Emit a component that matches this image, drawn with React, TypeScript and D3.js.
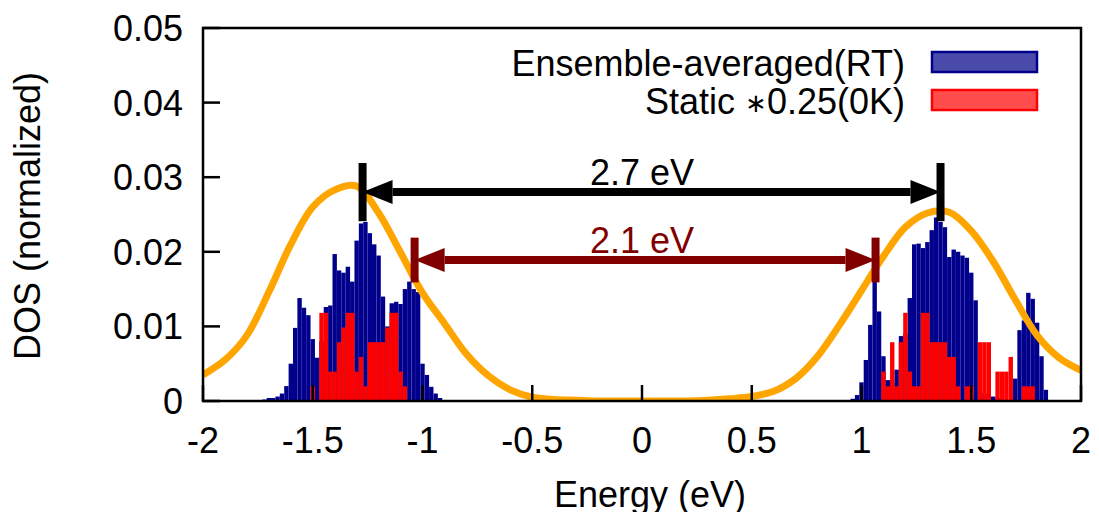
import React from "react";
import * as d3 from "d3";

// histogram bins are 0.02 eV wide; each list starts at the given energy
const binWidth = 0.02;

const ensembleLeftStart = -1.73;
const ensembleLeft = [
  0.0002, 0.0004, 0.0004, 0.0006, 0.001, 0.002, 0.005, 0.0098, 0.0138, 0.0125,
  0.0115, 0.0083, 0.0058, 0.008, 0.0126, 0.0128, 0.0197, 0.0175, 0.0172, 0.018,
  0.016, 0.0215, 0.0238, 0.024, 0.0225, 0.021, 0.0195, 0.014, 0.01, 0.0131,
  0.0133, 0.013, 0.015, 0.016, 0.015, 0.0146, 0.005, 0.0035, 0.0019, 0.001,
  0.0004,
];

const ensembleRightStart = 0.93;
const ensembleRight = [
  0.0001, 0.0003, 0.0008, 0.0025, 0.0055, 0.0102, 0.0162, 0.012, 0.006, 0.0028,
  0.0025, 0.0042, 0.0087, 0.009, 0.0138, 0.021, 0.0211, 0.0205, 0.0213, 0.0229,
  0.0246, 0.024, 0.0233, 0.0193, 0.0203, 0.02, 0.0195, 0.0192, 0.0172, 0.0135,
  0.0012, 0.001, 0.0008, 0.0006, 0.0004, 0.0002, 0.0001, 0.0001, 0.003, 0.0095,
  0.0108, 0.0145, 0.0137, 0.0105, 0.006, 0.0015,
];

// static DOS comes in whole counts of one level (0.00197 after the *0.25 scaling)
const staticLevel = 0.00197;
const staticLeftStart = -1.51;
const staticLeftCounts = [1, 0, 6, 6, 2, 2, 4, 5, 6, 6, 2, 3, 1, 4, 4, 4, 4, 5, 6, 6, 2, 1];
const staticRightStart = 1.09;
const staticRightCounts = [
  2, 1, 4, 1, 4, 6, 2, 1, 1, 6, 6, 4, 4, 4, 4, 3, 3, 1, 0, 1, 1, 0, 4, 4, 4, 0,
  2, 2, 2, 3, 0, 0, 1, 1, 1,
];

// broadened curve, read every 0.1 eV
const broadEnergy = d3.range(-20, 21).map((k) => k / 10);
const broadValue = [
  0.0035, 0.0055, 0.0088, 0.0146, 0.021, 0.026, 0.0283, 0.0288, 0.0252, 0.0199,
  0.0145, 0.0104, 0.0063, 0.0034, 0.0015, 0.0005, 0.0002, 0.0001, 0, 0,
  0, 0, 0, 0.0001, 0.0003, 0.0006, 0.0013, 0.003, 0.006, 0.0102,
  0.0148, 0.0194, 0.0233, 0.0252, 0.0253, 0.0228, 0.0187, 0.0136, 0.0088, 0.0058,
  0.0041,
];

const xTicks = [-2, -1.5, -1, -0.5, 0, 0.5, 1, 1.5, 2];
const yTicks = [0, 0.01, 0.02, 0.03, 0.04, 0.05];

const gaps = [
  { label: "2.7 eV", from: -1.273, to: 1.36, level: 0.028, barHalf: 0.0039, color: "#000000" },
  { label: "2.1 eV", from: -1.036, to: 1.064, level: 0.0189, barHalf: 0.003, color: "#800000" },
];

const font = "'Liberation Sans', Arial, Helvetica, sans-serif";

function toBins(start: number, values: number[]) {
  return values.map((v, i) => ({ x0: start + i * binWidth, v }));
}

export default function App() {
  const x = d3.scaleLinear().domain([-2, 2]).range([203, 1081]);
  const y = d3.scaleLinear().domain([0, 0.05]).range([401, 28]);

  const blue = [...toBins(ensembleLeftStart, ensembleLeft), ...toBins(ensembleRightStart, ensembleRight)];
  const red = [
    ...toBins(staticLeftStart, staticLeftCounts.map((k) => k * staticLevel)),
    ...toBins(staticRightStart, staticRightCounts.map((k) => k * staticLevel)),
  ];

  const line = d3
    .line<number>()
    .x((_, i) => x(broadEnergy[i]))
    .y((d) => Math.min(y(d), y(0)))
    .curve(d3.curveCatmullRom.alpha(0.5));

  const bars = (data: { x0: number; v: number }[], fill: string, key: string) =>
    data
      .filter((d) => d.v > 0)
      .map((d, i) => (
        <rect
          key={`${key}${i}`}
          x={x(d.x0)}
          y={y(d.v)}
          width={x(d.x0 + binWidth) - x(d.x0)}
          height={y(0) - y(d.v)}
          fill={fill}
        />
      ));

  return (
    <svg
      width={1099}
      height={512}
      style={{ position: "absolute", left: 0, top: 0, background: "#fff" }}
      fontFamily={font}
    >
      <defs>
        <clipPath id="plot">
          <rect x={203} y={28} width={878} height={373} />
        </clipPath>
      </defs>

      {bars(blue, "#00008c", "b")}
      {bars(red, "#ff0000", "r")}

      <path
        d={line(broadValue) || ""}
        fill="none"
        stroke="#ffa500"
        strokeWidth={7}
        clipPath="url(#plot)"
      />

      {gaps.map((g) => {
        const x1 = x(g.from);
        const x2 = x(g.to);
        const yy = y(g.level);
        const head = 30;
        const hw = 12;
        return (
          <g key={g.label}>
            <line x1={x1 + head} x2={x2 - head} y1={yy} y2={yy} stroke={g.color} strokeWidth={8} />
            <polygon points={`${x1},${yy} ${x1 + head},${yy - hw} ${x1 + head},${yy + hw}`} fill={g.color} />
            <polygon points={`${x2},${yy} ${x2 - head},${yy - hw} ${x2 - head},${yy + hw}`} fill={g.color} />
            <line x1={x1} x2={x1} y1={y(g.level + g.barHalf)} y2={y(g.level - g.barHalf)} stroke={g.color} strokeWidth={8} />
            <line x1={x2} x2={x2} y1={y(g.level + g.barHalf)} y2={y(g.level - g.barHalf)} stroke={g.color} strokeWidth={8} />
            <text x={x(0)} y={yy - 7} textAnchor="middle" fontSize={36} fill={g.color}>
              {g.label}
            </text>
          </g>
        );
      })}

      {/* legend */}
      <text x={905} y={76} textAnchor="end" fontSize={36}>
        Ensemble-averaged(RT)
      </text>
      <rect x={932} y={52} width={105} height={20} fill="#4b4bab" stroke="#00008c" strokeWidth={2.5} />
      <text x={905} y={114} textAnchor="end" fontSize={36}>
        Static <tspan fontSize={26} dy={-2}>∗</tspan>
        <tspan dy={2}>0.25(0K)</tspan>
      </text>
      <rect x={932} y={90} width={105} height={20} fill="#ff4c4c" stroke="#ff0000" strokeWidth={2.5} />

      {/* axes */}
      <rect x={203} y={28} width={878} height={373} fill="none" stroke="#000" strokeWidth={2.5} />
      {xTicks.map((t) => (
        <g key={`x${t}`}>
          <line x1={x(t)} x2={x(t)} y1={y(0)} y2={y(0) - 16} stroke="#000" strokeWidth={2.5} />
          <text x={x(t)} y={453} textAnchor="middle" fontSize={36}>
            {String(t)}
          </text>
        </g>
      ))}
      {yTicks.map((t) => (
        <g key={`y${t}`}>
          <line x1={203} x2={220} y1={y(t)} y2={y(t)} stroke="#000" strokeWidth={2.5} />
          <text x={183} y={y(t) + 13} textAnchor="end" fontSize={36}>
            {String(t)}
          </text>
        </g>
      ))}
      <text x={650} y={507} textAnchor="middle" fontSize={36}>
        Energy (eV)
      </text>
      <text transform="translate(40,216) rotate(-90)" textAnchor="middle" fontSize={36}>
        DOS (normalized)
      </text>
    </svg>
  );
}
